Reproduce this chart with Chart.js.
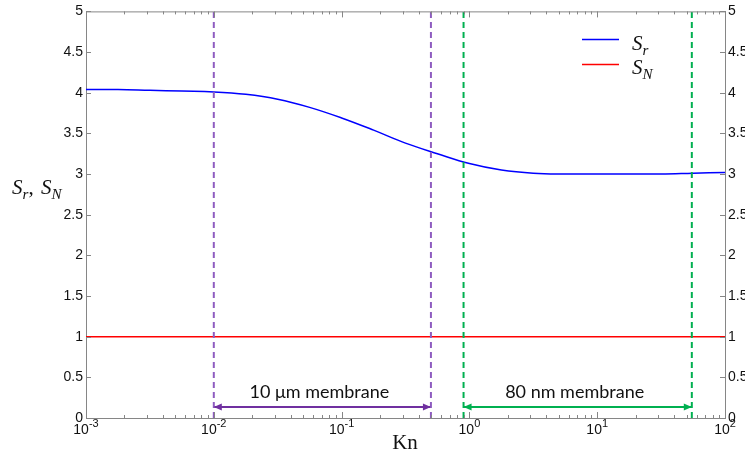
<!DOCTYPE html>
<html>
<head>
<meta charset="utf-8">
<script src="https://cdn.jsdelivr.net/npm/chart.js@4.4.1/dist/chart.umd.min.js"></script>
<style>
  html, body { margin: 0; padding: 0; background: #fff; }
  #wrap { width: 745px; height: 456px; }
</style>
</head>
<body>
<div id="wrap"><canvas id="chart" width="745" height="456"></canvas></div>
<script>
// data
const knValues = [0.001, 0.00178, 0.00316, 0.00562, 0.01, 0.0178, 0.0316, 0.0562, 0.1, 0.178, 0.316, 0.562, 1, 1.78, 3.16, 5.62, 10, 17.8, 31.6, 56.2, 100];
const srValues = [4.04, 4.04, 4.03, 4.02, 4.01, 3.98, 3.92, 3.82, 3.69, 3.54, 3.38, 3.25, 3.13, 3.05, 3.01, 3.0, 3.0, 3.0, 3.0, 3.01, 3.02];
const snKn = [0.001, 100];
const snValues = [1, 1];
const xTicks = [0.001, 0.01, 0.1, 1, 10, 100];
const xTickExps = ["-3", "-2", "-1", "0", "1", "2"];
const yTicks = [0, 0.5, 1, 1.5, 2, 2.5, 3, 3.5, 4, 4.5, 5];
const microRange = [0.01, 0.5];
const nanoRange = [0.9, 55];
const arrowLevel = 0.135;
const rangeLabels = ["10 μm membrane", "80 nm membrane"];

const axisColor = "#868686";
const textColor = "#111";
const purple = "#8e5cc0";
const purpleDark = "#7030a0";
const green = "#00b050";
const sansFont = "'Liberation Sans', Arial, sans-serif";

function pts(xs, ys) {
  return xs.map((x, i) => ({ x: x, y: ys[i] }));
}

function vline(x, color) {
  return {
    data: [{ x: x, y: 0 }, { x: x, y: 5 }],
    borderColor: color,
    borderWidth: 2,
    borderDash: [6, 4],
    pointRadius: 0,
    order: 0,
  };
}

function hArrow(range, color) {
  return {
    data: [{ x: range[0], y: arrowLevel }, { x: range[1], y: arrowLevel }],
    borderColor: color,
    borderWidth: 2,
    pointRadius: 0,
    order: 0,
    isArrow: true,
  };
}

// italic math text like S_r drawn as pieces
function mathText(ctx, x, y, parts, size) {
  let cx = x;
  parts.forEach((p) => {
    const s = p.sub ? size * 0.72 : size;
    ctx.font = (p.italic === false ? "" : "italic ") + s + "px 'Liberation Serif', 'DejaVu Serif', serif";
    ctx.fillText(p.t, cx, y + (p.sub ? size * 0.22 : 0));
    cx += ctx.measureText(p.t).width + (p.gap || 0);
  });
}

const decor = {
  id: "decor",
  afterDatasetsDraw(chart) {
    const ctx = chart.ctx;
    const a = chart.chartArea;
    const xs = chart.scales.x;
    const ys = chart.scales.y;
    ctx.save();

    // box top
    ctx.strokeStyle = axisColor;
    ctx.lineWidth = 1;
    ctx.beginPath();
    ctx.moveTo(a.left, a.top + 0.5);
    ctx.lineTo(a.right, a.top + 0.5);
    ctx.stroke();

    // inward ticks
    ctx.beginPath();
    yTicks.forEach((v) => {
      const py = Math.round(ys.getPixelForValue(v)) + 0.5;
      ctx.moveTo(a.left, py); ctx.lineTo(a.left + 5, py);
      ctx.moveTo(a.right, py); ctx.lineTo(a.right - 5, py);
    });
    for (let d = 0; d < xTicks.length; d++) {
      const base = xTicks[d];
      const px = Math.round(xs.getPixelForValue(base)) + 0.5;
      ctx.moveTo(px, a.bottom); ctx.lineTo(px, a.bottom - 6);
      ctx.moveTo(px, a.top); ctx.lineTo(px, a.top + 6);
      if (d < xTicks.length - 1) {
        for (let m = 2; m <= 9; m++) {
          const mx = Math.round(xs.getPixelForValue(base * m)) + 0.5;
          ctx.moveTo(mx, a.bottom); ctx.lineTo(mx, a.bottom - 3);
          ctx.moveTo(mx, a.top); ctx.lineTo(mx, a.top + 3);
        }
      }
    }
    ctx.stroke();

    // x tick labels 10^n
    ctx.fillStyle = textColor;
    ctx.textBaseline = "alphabetic";
    ctx.textAlign = "left";
    xTicks.forEach((v, i) => {
      const px = xs.getPixelForValue(v);
      ctx.font = "14px " + sansFont;
      const wb = ctx.measureText("10").width;
      ctx.font = "11px " + sansFont;
      const we = ctx.measureText(xTickExps[i]).width;
      const x0 = px - (wb + we) / 2;
      ctx.font = "14px " + sansFont;
      ctx.fillText("10", x0, a.bottom + 16);
      ctx.font = "11px " + sansFont;
      ctx.fillText(xTickExps[i], x0 + wb, a.bottom + 9);
    });

    // arrow heads
    chart.data.datasets.forEach((ds) => {
      if (!ds.isArrow) return;
      const y = ys.getPixelForValue(ds.data[0].y);
      const x0 = xs.getPixelForValue(ds.data[0].x);
      const x1 = xs.getPixelForValue(ds.data[1].x);
      ctx.fillStyle = ds.borderColor;
      ctx.beginPath();
      ctx.moveTo(x0, y); ctx.lineTo(x0 + 8, y - 3.5); ctx.lineTo(x0 + 8, y + 3.5);
      ctx.closePath(); ctx.fill();
      ctx.beginPath();
      ctx.moveTo(x1, y); ctx.lineTo(x1 - 8, y - 3.5); ctx.lineTo(x1 - 8, y + 3.5);
      ctx.closePath(); ctx.fill();
    });

    // range labels
    ctx.fillStyle = textColor;
    ctx.font = "18px Lato, 'Open Sans', sans-serif";
    ctx.textAlign = "center";
    const ly = ys.getPixelForValue(arrowLevel) - 9;
    [microRange, nanoRange].forEach((r, i) => {
      const mid = (xs.getPixelForValue(r[0]) + xs.getPixelForValue(r[1])) / 2 - 3;
      ctx.fillText(rangeLabels[i], mid, ly);
    });

    // x title
    ctx.font = "21px 'Liberation Serif', 'DejaVu Serif', serif";
    ctx.fillText("Kn", 405, 449);

    // y title
    ctx.textAlign = "left";
    mathText(ctx, 12, 194, [
      { t: "S" }, { t: "r", sub: true }, { t: ", ", italic: false, gap: 2 },
      { t: "S" }, { t: "N", sub: true },
    ], 21);

    // legend
    ctx.lineWidth = 1.5;
    ctx.strokeStyle = chart.data.datasets[0].borderColor;
    ctx.beginPath(); ctx.moveTo(582, 39.5); ctx.lineTo(619, 39.5); ctx.stroke();
    ctx.strokeStyle = chart.data.datasets[1].borderColor;
    ctx.beginPath(); ctx.moveTo(582, 64.5); ctx.lineTo(619, 64.5); ctx.stroke();
    ctx.fillStyle = textColor;
    mathText(ctx, 632, 50, [{ t: "S" }, { t: "r", sub: true }], 21);
    mathText(ctx, 632, 74, [{ t: "S" }, { t: "N", sub: true }], 21);

    ctx.restore();
  },
};

const tickFont = { family: sansFont, size: 14 };

new Chart(document.getElementById("chart").getContext("2d"), {
  type: "line",
  data: {
    datasets: [
      {
        label: "Sr",
        data: pts(knValues, srValues),
        borderColor: "#0000ff",
        borderWidth: 1.5,
        pointRadius: 0,
        tension: 0.4,
        order: 1,
      },
      {
        label: "SN",
        data: pts(snKn, snValues),
        borderColor: "#ff0000",
        borderWidth: 1.5,
        pointRadius: 0,
        order: 1,
      },
      vline(microRange[0], purple),
      vline(microRange[1], purple),
      vline(nanoRange[0], green),
      vline(nanoRange[1], green),
      hArrow(microRange, purpleDark),
      hArrow(nanoRange, green),
    ],
  },
  options: {
    responsive: false,
    animation: false,
    layout: { padding: { top: 10, left: 0, right: 0, bottom: 0 } },
    plugins: { legend: { display: false }, tooltip: { enabled: false } },
    scales: {
      x: {
        type: "logarithmic",
        position: "bottom",
        min: 0.001,
        max: 100,
        afterBuildTicks: (s) => { s.ticks = xTicks.map((v) => ({ value: v, major: true })); },
        afterFit: (s) => { s.height = 38; },
        ticks: { display: false },
        grid: { display: false, drawTicks: false },
        border: { display: true, color: axisColor },
      },
      y: {
        position: "left",
        min: 0,
        max: 5,
        afterBuildTicks: (s) => { s.ticks = yTicks.map((v) => ({ value: v })); },
        afterFit: (s) => { s.width = 86; },
        ticks: { padding: 3, color: textColor, font: tickFont, callback: (v) => String(v) },
        grid: { display: false, drawTicks: false },
        border: { display: true, color: axisColor },
      },
      y2: {
        position: "right",
        min: 0,
        max: 5,
        afterBuildTicks: (s) => { s.ticks = yTicks.map((v) => ({ value: v })); },
        afterFit: (s) => { s.width = 20; },
        ticks: { padding: 3, color: textColor, font: tickFont, callback: (v) => String(v) },
        grid: { display: false, drawTicks: false },
        border: { display: true, color: axisColor },
      },
    },
  },
  plugins: [decor],
});
</script>
</body>
</html>
